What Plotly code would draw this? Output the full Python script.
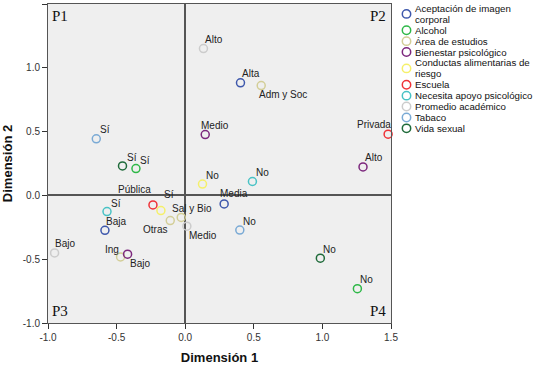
import plotly.graph_objects as go

# ---------------- data ----------------
series_names = [
    "Aceptación de imagen corporal", "Alcohol", "Área de estudios",
    "Bienestar psicológico", "Conductas alimentarias de riesgo", "Escuela",
    "Necesita apoyo psicológico", "Promedio académico", "Tabaco", "Vida sexual",
]

aceptacion_cat = ["Alta", "Media", "Baja"]
aceptacion_d1 = [0.403, 0.284, -0.585]
aceptacion_d2 = [0.882, -0.067, -0.274]

alcohol_cat = ["Sí", "No"]
alcohol_d1 = [-0.359, 1.255]
alcohol_d2 = [0.210, -0.731]

area_cat = ["Adm y Soc", "Sal y Bio", "Otras", "Ing"]
area_d1 = [0.554, -0.029, -0.109, -0.471]
area_d2 = [0.861, -0.173, -0.197, -0.482]

bienestar_cat = ["Medio", "Alto", "Bajo"]
bienestar_d1 = [0.146, 1.296, -0.420]
bienestar_d2 = [0.477, 0.223, -0.461]

conductas_cat = ["No", "Sí"]
conductas_d1 = [0.126, -0.177]
conductas_d2 = [0.089, -0.119]

escuela_cat = ["Privada", "Pública"]
escuela_d1 = [1.479, -0.235]
escuela_d2 = [0.480, -0.075]

apoyo_cat = ["No", "Sí"]
apoyo_d1 = [0.490, -0.570]
apoyo_d2 = [0.109, -0.127]

promedio_cat = ["Alto", "Medio", "Bajo"]
promedio_d1 = [0.133, 0.012, -0.952]
promedio_d2 = [1.151, -0.241, -0.451]

tabaco_cat = ["Sí", "No"]
tabaco_d1 = [-0.648, 0.398]
tabaco_d2 = [0.443, -0.272]

vida_cat = ["Sí", "No"]
vida_d1 = [-0.457, 0.985]
vida_d2 = [0.231, -0.492]

tick_vals = [-1.0, -0.5, 0.0, 0.5, 1.0, 1.5]
tick_text = ["-1.0", "-0.5", "0.0", "0.5", "1.0", "1.5"]
quadrant_labels = ["P1", "P2", "P3", "P4"]

# ---------------- styling ----------------
colors = ["#3E58AC", "#2EB848", "#D3CE97", "#7C287D", "#F5F06A",
          "#EF3338", "#48C2C5", "#CCCCCC", "#7AAAD5", "#1F6B3A"]

# label offsets in pixels (dx right, dy down) relative to each point
label_offsets = [
    [(11, -9), (10, -10), (11, -9)],
    [(9, -8), (9, -9)],
    [(22, 9), (11, -9), (-15, 9), (-9, -7)],
    [(10, -9), (11, -9), (12, 9)],
    [(10, -9), (8, -16)],
    [(-14, -10), (-18, -15)],
    [(10, -9), (9, -8)],
    [(11, -9), (16, 9), (10, -9)],
    [(9, -9), (10, -9)],
    [(9, -8), (9, -9)],
]

all_series = [
    (aceptacion_cat, aceptacion_d1, aceptacion_d2),
    (alcohol_cat, alcohol_d1, alcohol_d2),
    (area_cat, area_d1, area_d2),
    (bienestar_cat, bienestar_d1, bienestar_d2),
    (conductas_cat, conductas_d1, conductas_d2),
    (escuela_cat, escuela_d1, escuela_d2),
    (apoyo_cat, apoyo_d1, apoyo_d2),
    (promedio_cat, promedio_d1, promedio_d2),
    (tabaco_cat, tabaco_d1, tabaco_d2),
    (vida_cat, vida_d1, vida_d2),
]

W, H = 536, 365
L, R, T, B = 48, 145, 3, 40
PW, PH = W - L - R, H - T - B


def px(xp):
    return (xp - L) / PW


def py(yp):
    return (H - B - yp) / PH


FONT = "Liberation Sans, Arial, sans-serif"

fig = go.Figure()
annotations = []

for i, (cats, d1, d2) in enumerate(all_series):
    fig.add_trace(go.Scatter(
        x=d1, y=d2, mode="markers", name=series_names[i],
        marker=dict(symbol="circle-open", size=8, color=colors[i],
                    line=dict(width=1.5, color=colors[i])),
        cliponaxis=False, showlegend=False,
        hovertext=cats,
    ))
    for j, c in enumerate(cats):
        dx, dy = label_offsets[i][j]
        annotations.append(dict(
            x=d1[j], y=d2[j], xref="x", yref="y", text=c, showarrow=False,
            xanchor="center", yanchor="middle", xshift=dx, yshift=-dy,
            font=dict(family=FONT, size=10, color="#222222"),
        ))

# quadrant labels
quad_pos = [(60, 15), (378, 15), (60, 313), (378, 313)]
for lbl, (xp, yp) in zip(quadrant_labels, quad_pos):
    annotations.append(dict(
        x=px(xp), y=py(yp), xref="paper", yref="paper", text=lbl,
        showarrow=False, xanchor="center", yanchor="middle",
        font=dict(family="Liberation Serif, Times New Roman, serif", size=15, color="#111111"),
    ))

# manual legend (one text per line, 11 px line pitch)
legend_lines = [
    ["Aceptación de imagen", "corporal"], ["Alcohol"], ["Área de estudios"],
    ["Bienestar psicológico"], ["Conductas alimentarias de", "riesgo"],
    ["Escuela"], ["Necesita apoyo psicológico"], ["Promedio académico"],
    ["Tabaco"], ["Vida sexual"],
]
shapes = []
line_no = 0
pitch, top = 11.0, 7.5
for i, lines in enumerate(legend_lines):
    ys = [top + pitch * (line_no + k) for k in range(len(lines))]
    line_no += len(lines)
    shapes.append(dict(
        type="circle", xref="paper", yref="paper",
        xsizemode="pixel", ysizemode="pixel",
        xanchor=px(406.5), yanchor=py(sum(ys) / len(ys)),
        x0=-4.2, x1=4.2, y0=-4.2, y1=4.2,
        line=dict(color=colors[i], width=1.5),
    ))
    for t, yl in zip(lines, ys):
        annotations.append(dict(
            x=px(413), y=py(yl), xref="paper", yref="paper", text=t,
            showarrow=False, xanchor="left", yanchor="middle",
            font=dict(family=FONT, size=9.7, color="#111111"),
        ))

axis_common = dict(
    range=[-1, 1.5], tickvals=tick_vals, ticktext=tick_text,
    ticks="outside", ticklen=5, tickwidth=1, tickcolor="#333333",
    showline=True, linecolor="#555555", linewidth=1, mirror=True,
    showgrid=False, zeroline=True, zerolinecolor="#555555", zerolinewidth=1.5,
    tickfont=dict(family=FONT, size=10, color="#333333"),
)

fig.update_layout(
    width=W, height=H,
    margin=dict(l=L, r=R, t=T, b=B, pad=0),
    paper_bgcolor="white", plot_bgcolor="#EFEFEF",
    xaxis=dict(axis_common, title=dict(text="<b>Dimensión 1</b>", standoff=10,
                                        font=dict(family=FONT, size=13, color="#111111"))),
    yaxis=dict(axis_common, title=dict(text="<b>Dimensión 2</b>", standoff=8,
                                        font=dict(family=FONT, size=13, color="#111111"))),
    annotations=annotations, shapes=shapes,
    showlegend=False,
)

fig.write_html(
    "out.html",
    config={"displayModeBar": False},
    post_script="document.body.style.margin='0';document.body.style.overflow='hidden';",
)
